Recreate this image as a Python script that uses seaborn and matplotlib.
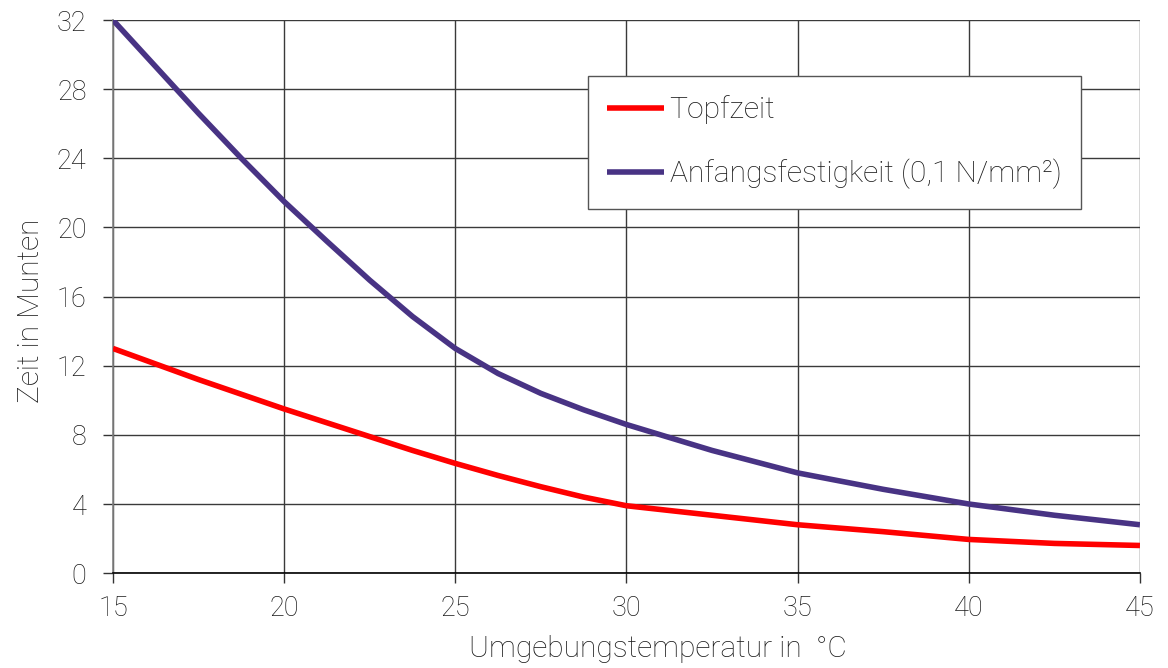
import pandas as pd
import matplotlib.pyplot as plt
import seaborn as sns

# values
temperatur = [15, 16.25, 17.5, 18.75, 20, 21.25, 22.5, 23.75, 25, 26.25, 27.5, 28.75,
              30, 32.5, 35, 37.5, 40, 42.5, 45]
topfzeit = [13.0, 12.1, 11.2, 10.35, 9.5, 8.7, 7.9, 7.1, 6.35, 5.65, 5.0, 4.4,
            3.9, 3.35, 2.8, 2.4, 1.95, 1.72, 1.6]
anfangsfestigkeit = [32.0, 29.3, 26.6, 24.0, 21.5, 19.2, 16.95, 14.85, 13.0, 11.55, 10.4, 9.45,
                     8.6, 7.1, 5.8, 4.85, 4.0, 3.35, 2.8]

serien = ["Topfzeit", "Anfangsfestigkeit (0,1 N/mm²)"]
farben = ["#ff0000", "#483384"]

df = pd.concat([
    pd.DataFrame({"temp": temperatur, "zeit": topfzeit, "serie": serien[0]}),
    pd.DataFrame({"temp": temperatur, "zeit": anfangsfestigkeit, "serie": serien[1]}),
])

sns.set_style("white")
plt.rcParams['font.family'] = ['Roboto', 'DejaVu Sans']
plt.rcParams['font.weight'] = 'light'
plt.rcParams['axes.labelweight'] = 'light'

fig, ax = plt.subplots(figsize=(11.68, 6.68), dpi=100)
fig.subplots_adjust(left=0.0967, right=0.976, top=0.970, bottom=0.142)

sns.lineplot(data=df, x="temp", y="zeit", hue="serie", palette=farben,
             hue_order=serien, linewidth=4.0, ax=ax, zorder=3)
for line in ax.get_lines():
    line.set_solid_capstyle("butt")
    line.set_solid_joinstyle("round")

ax.set_xlim(15, 45)
ax.set_ylim(0, 32)
ax.set_xticks(range(15, 46, 5))
ax.set_yticks(range(0, 33, 4))
ax.grid(True, color="#3a3a3a", linewidth=1.0, zorder=0)
ax.set_axisbelow(True)

for s in ["top", "right"]:
    ax.spines[s].set_visible(False)
ax.spines["left"].set_color("#808080")
ax.spines["left"].set_linewidth(1.2)
ax.spines["bottom"].set_color("black")
ax.spines["bottom"].set_linewidth(1.2)

ax.tick_params(axis="both", direction="out", length=7, width=1, color="#333333",
               labelsize=19.5, labelcolor="#1a1a1a", left=True, bottom=True)
ax.tick_params(axis="y", pad=12)
ax.tick_params(axis="x", pad=9)

ax.set_xlabel("Umgebungstemperatur in  °C", fontsize=21.5, color="#1a1a1a")
ax.set_ylabel("Zeit in Munten", fontsize=21.5, color="#1a1a1a")
ax.xaxis.set_label_coords(0.531, -0.112)
ax.yaxis.set_label_coords(-0.066, 0.474)

leg = ax.legend(loc="upper left", bbox_to_anchor=(0.4625, 0.899), borderaxespad=0,
                fontsize=21.6, frameon=True, fancybox=False, handlelength=1.9,
                handletextpad=0.17, labelspacing=1.15, borderpad=0.65)
leg.get_frame().set_edgecolor("#555555")
leg.get_frame().set_linewidth(1.0)
leg.get_frame().set_alpha(1)
for t in leg.get_texts():
    t.set_color("#1a1a1a")
leg.set_zorder(5)

plt.savefig("out.png", dpi=100)
